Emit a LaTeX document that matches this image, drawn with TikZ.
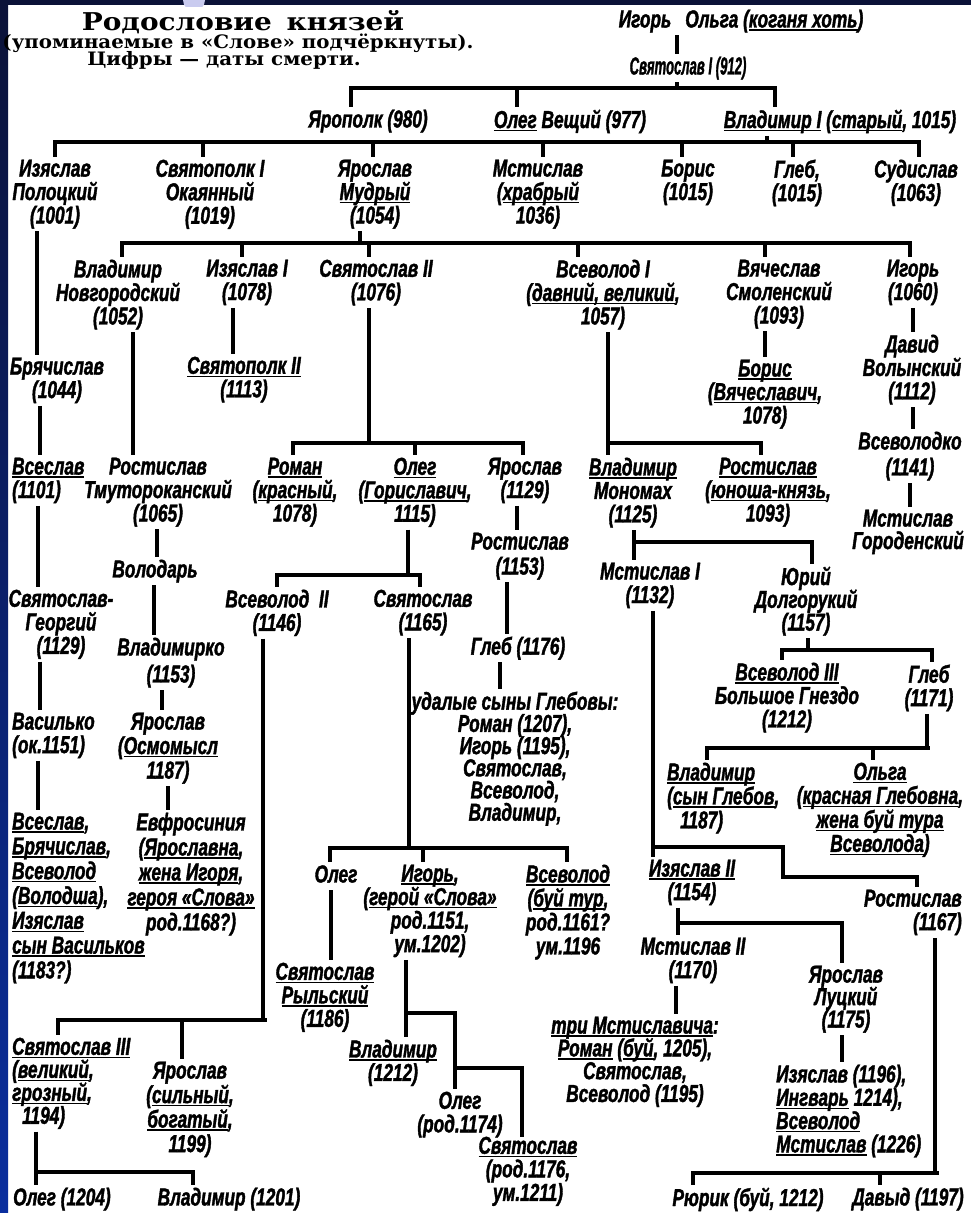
\documentclass[tikz,border=0pt]{standalone}
\usepackage{fontspec}
\usepackage{graphicx}
\newfontfamily\rus{Liberation Sans}[FakeStretch=0.705, FakeBold=1.5]
\newfontfamily\ttl{DejaVu Serif}[FakeStretch=1.14]
\newfontfamily\subt{DejaVu Serif}[FakeStretch=1.07]
\newcommand\uu[1]{\leavevmode\setbox0\hbox{#1}\rlap{\rule[-3.2pt]{\wd0}{1.4pt}}\box0\relax}
\definecolor{navy}{HTML}{0B1238}
\definecolor{bluestrip}{HTML}{0A2E9E}
\definecolor{lav}{HTML}{C9CBEF}
\tikzset{
  nm/.style={font=\fontsize{24.5}{23.5}\selectfont\rus\bfseries\itshape, align=center, inner sep=0pt, anchor=north,
    execute at begin node={\vphantom{(}}, execute at end node={\vphantom{(}}},
  nml/.style={nm, align=left, anchor=north west},
  nmr/.style={nm, align=right, anchor=north east},
  bs/.style={font=\fontsize{24.5}{#1}\selectfont\rus\bfseries\itshape},
  ln/.style={line width=4.5pt},
  bar/.style={line width=4.5pt, line cap=rect},
  ttlfont/.style={font=\fontsize{24.5}{24.5}\selectfont\ttl\bfseries, anchor=base, inner sep=0pt},
  subfont/.style={font=\fontsize{18.5}{20}\selectfont\subt\bfseries, anchor=base, inner sep=0pt},
}
\newcommand\vln[3]{\draw[ln,shorten <=2.5pt,shorten >=2.5pt] (#1.south -| #3,0) -- (#2.north -| #3,0);}
\newcommand\famb[5]{\draw[ln,shorten <=2.5pt] (#1.south -| #2,0) -- (#2,#3);\draw[bar] (#4,#3) -- (#5,#3);}
\newcommand\drop[3]{\draw[ln,shorten >=2.5pt] (#1,#2) -- (#3.north -| #1,0);}
\begin{document}
\lineskiplimit=-100pt
\begin{tikzpicture}[x=1pt,y=-1pt]
\useasboundingbox (0,0) rectangle (971,1213);
\fill[white] (0,0) rectangle (971,1213);
\shade[top color=navy, bottom color=bluestrip] (0,0) rectangle (8,1213);
\fill[navy] (0,0) rectangle (971,5);
\begin{scope}
\clip (0,0) rectangle (971,6);
\fill[lav] (194,0) circle[radius=11pt];
\end{scope}

% titles
\node[ttlfont] (title) at (243,30) {Родословие\hspace{0.6em}князей};
\node[subfont] (sub1) at (238,48.5) {(упоминаемые в «Слове» подчёркнуты).};
\node[subfont] (sub2) at (224,65) {Цифры — даты смерти.};

% generation 0-1
\node[nm] (igor0) at (741,9.5) {Игорь\hspace{14pt}Ольга (\uu{коганя хоть})};
\node[nm] (sv1) at (688,56.5) {\scalebox{0.76}[1]{Святослав I (912)}};
\node[nm] (yaropolk) at (368,109.5) {Ярополк (980)};
\node[nm] (olegv) at (570,109.5) {\uu{Олег} Вещий (977)};
\node[nm] (vlad1) at (840,109.5) {\uu{Владимир I} (\uu{старый}, 1015)};

% row 2
\node[nm] (izpol) at (55,159.5) {Изяслав\\Полоцкий\\(1001)};
\node[nm] (svp1) at (210,159.5) {Святополк I\\Окаянный\\(1019)};
\node[nm] (yarm) at (375,159.5) {Ярослав\\\uu{Мудрый}\\(1054)};
\node[nm] (mst) at (538,159.5) {Мстислав\\(\uu{храбрый}\\1036)};
\node[nm] (boris) at (688,159.5) {Борис\\(1015)};
\node[nm] (gleb) at (797,159.5) {Глеб,\\(1015)};
\node[nm] (sud) at (916,159.5) {Судислав\\(1063)};

% row 3
\node[nm] (vnov) at (118,259.5) {Владимир\\Новгородский\\(1052)};
\node[nm] (iz1) at (247,259.5) {Изяслав I\\(1078)};
\node[nm] (sv2) at (376,259.5) {Святослав II\\(1076)};
\node[nm] (vs1) at (603,259.5) {Всеволод I\\(\uu{давний, великий},\\1057)};
\node[nm] (vyach) at (779,259.5) {Вячеслав\\Смоленский\\(1093)};
\node[nm] (igor1060) at (913,259.5) {Игорь\\(1060)};

% left column
\node[nm] (bryach) at (57,357.5) {Брячислав\\(1044)};
\node[nml] (vseslav) at (12,457.5) {\uu{Всеслав}\\(1101)};
\node[nm] (svgeorg) at (61,589.5) {Святослав-\\Георгий\\(1129)};
\node[nml] (vasilko) at (12,712.5) {Василько\\(ок.1151)};
\node[nml,bs=24.8] (vseslav2) at (12,812.5) {\uu{Всеслав},\\\uu{Брячислав},\\\uu{Всеволод}\\(\uu{Володша}),\\\uu{Изяслав}\\\uu{сын Васильков}\\(1183?)};

\node[nm] (svp2) at (244,356.5) {\uu{Святополк II}\\(1113)};
\node[nm] (rostm) at (158,457.5) {Ростислав\\Тмутороканский\\(1065)};
\node[nm] (volodar) at (155,559.5) {Володарь};
\node[nm,bs=27] (vladko) at (171,637.5) {Владимирко\\(1153)};
\node[nm,bs=24.5] (yarosm) at (168,712.5) {Ярослав\\(\uu{Осмомысл}\\1187)};
\node[nm,bs=25] (evfr) at (191,812.5) {Евфросиния\\(\uu{Ярославна},\\\uu{жена Игоря},\\\uu{героя «Слова»}\\род.1168?)};

% Svyatoslav II line
\node[nm] (roman) at (295,457.5) {\uu{Роман}\\(\uu{красный},\\1078)};
\node[nm] (olegg) at (415,457.5) {\uu{Олег}\\(\uu{Гориславич},\\1115)};
\node[nm] (yar1129) at (525,457.5) {Ярослав\\(1129)};
\node[nm,bs=25] (rost1153) at (520,532.5) {Ростислав\\(1153)};
\node[nm] (gleb1176) at (518,636.5) {Глеб (1176)};
\node[nm,bs=22.2] (udal) at (515,691.5) {удалые сыны Глебовы:\\Роман (1207),\\Игорь (1195),\\Святослав,\\Всеволод,\\Владимир,};
\node[nm] (vs2) at (277,589.5) {Всеволод\ \ II\\(1146)};
\node[nm] (svy1165) at (423,589.5) {Святослав\\(1165)};
\node[nml,bs=23] (sv3) at (12,1037.5) {\uu{Святослав III}\\(\uu{великий},\\\uu{грозный},\\\hspace*{10pt}1194)};
\node[nm,bs=24.5] (yarsil) at (190,1061.5) {Ярослав\\(\uu{сильный},\\\uu{богатый},\\1199)};
\node[nml] (oleg1204) at (13,1187.5) {Олег (1204)};
\node[nm] (vlad1201) at (229,1187.5) {Владимир (1201)};
\node[nm] (olegs) at (336,864.5) {Олег};
\node[nm] (igors) at (430,864.5) {\uu{Игорь},\\(\uu{герой «Слова»}\\род.1151,\\ум.1202)};
\node[nm,bs=24] (vsbt) at (568,864.5) {\uu{Всеволод}\\(\uu{буй тур},\\род.1161?\\ум.1196};
\node[nm] (svryl) at (325,962.5) {\uu{Святослав}\\\uu{Рыльский}\\(1186)};
\node[nm] (vlad1212) at (393,1039.5) {\uu{Владимир}\\(1212)};
\node[nm] (oleg1174) at (460,1091.5) {Олег\\(род.1174)};
\node[nm] (sv1176) at (528,1136.5) {\uu{Святослав}\\(род.1176,\\ум.1211)};

% Vsevolod I line
\node[nm] (mon) at (633,457.5) {\uu{Владимир}\\Мономах\\(1125)};
\node[nm] (rost1093) at (768,457.5) {\uu{Ростислав}\\(\uu{юноша-князь},\\1093)};
\node[nm] (mst1) at (650,562.5) {Мстислав I\\(1132)};
\node[nm,bs=22.8] (yuri) at (806,566.5) {Юрий\\Долгорукий\\(1157)};
\node[nm] (vs3) at (787,662.5) {\uu{Всеволод III}\\Большое Гнездо\\(1212)};
\node[nm] (gleb1171) at (929,664.5) {Глеб\\(1171)};
\node[nml,bs=24] (vladsyn) at (667,762.5) {\uu{Владимир}\\(\uu{сын Глебов},\\\hspace*{13pt}1187)};
\node[nm,bs=24] (olga) at (880,762.5) {\uu{Ольга}\\(\uu{красная Глебовна},\\\uu{жена буй тура}\\\uu{Всеволода})};
\node[nm] (iz2) at (692,859.5) {\uu{Изяслав II}\\(1154)};
\node[nmr] (rost1167) at (962,889.5) {Ростислав\\(1167)};
\node[nm] (mst2) at (693,937.5) {Мстислав II\\(1170)};
\node[nm,bs=22.5] (yarluck) at (846,965.5) {Ярослав\\Луцкий\\(1175)};
\node[nm,bs=22.8] (tri) at (635,1016.5) {\uu{три Мстиславича}:\\\uu{Роман} (\uu{буй}, 1205),\\Святослав,\\Всеволод (1195)};
\node[nml,bs=23.3] (izbig) at (776,1064.5) {Изяслав (1196),\\\uu{Ингварь} 1214),\\\uu{Всеволод}\\\uu{Мстислав} (1226)};
\node[nm] (ryurik) at (748,1187.5) {Рюрик (буй, 1212)};
\node[nm] (davyd) at (908,1187.5) {Давыд (1197)};
\node[nm] (borisv) at (765,359.5) {\uu{Борис}\\(\uu{Вячеславич},\\1078)};
\node[nm] (david) at (912,334.5) {Давид\\Волынский\\(1112)};
\node[nm,bs=26] (vsko) at (910,431.5) {Всеволодко\\(1141)};
\node[nm,bs=22.5] (mstgor) at (908,509.5) {Мстислав\\Городенский};

% connectors
\vln{igor0}{sv1}{677}
\famb{sv1}{677}{88}{351}{775}
\drop{351}{88}{yaropolk}\drop{517}{88}{olegv}\drop{775}{88}{vlad1}
\famb{vlad1}{767}{142}{55}{919}
\drop{55}{142}{izpol}\drop{203}{142}{svp1}\drop{373}{142}{yarm}\drop{543}{142}{mst}
\drop{682}{142}{boris}\drop{793}{142}{gleb}\drop{919}{142}{sud}
\famb{yarm}{360}{243}{122}{910}
\drop{122}{243}{vnov}\drop{242}{243}{iz1}\drop{369}{243}{sv2}\drop{578}{243}{vs1}
\drop{765}{243}{vyach}\drop{910}{243}{igor1060}
\vln{izpol}{bryach}{37}
\vln{bryach}{vseslav}{40}
\vln{vseslav}{svgeorg}{38}
\vln{svgeorg}{vasilko}{40}
\vln{vasilko}{vseslav2}{38}
\vln{vnov}{rostm}{133}
\vln{rostm}{volodar}{157}
\vln{volodar}{vladko}{154}
\vln{vladko}{yarosm}{162}
\vln{yarosm}{evfr}{168}
\vln{iz1}{svp2}{233}
\famb{sv2}{369}{443}{293}{523}
\drop{293}{443}{roman}\drop{415}{443}{olegg}\drop{523}{443}{yar1129}
\famb{olegg}{408}{575}{277}{420}
\drop{277}{575}{vs2}\drop{420}{575}{svy1165}
\vln{yar1129}{rost1153}{517}
\vln{rost1153}{gleb1176}{507}
\vln{gleb1176}{udal}{500}
\famb{vs2}{263}{1020}{58}{265}
\drop{58}{1020}{sv3}\drop{182}{1020}{yarsil}
\famb{sv3}{36}{1172}{36}{193}
\drop{36}{1172}{oleg1204}\drop{193}{1172}{vlad1201}
\famb{svy1165}{409}{848}{330}{567}
\drop{330}{848}{olegs}\drop{423}{848}{igors}\drop{567}{848}{vsbt}
\vln{olegs}{svryl}{331}
\vln{igors}{vlad1212}{406}
\draw[ln,line join=miter,shorten >=2.5pt] (406,1013) -| (oleg1174.north -| 455,0);
\draw[ln,line join=miter] (455,1068) -| (sv1176.north -| 522,0);
\famb{vs1}{608}{443}{608}{761}
\drop{608}{443}{mon}\drop{761}{443}{rost1093}
\famb{mon}{634}{542}{634}{812}
\drop{634}{542}{mst1}\drop{812}{542}{yuri}
\vln{mst1}{iz2}{653}
\draw[ln,line join=miter,shorten >=2.5pt] (653,847) -| (783,877) -| (rost1167.north -| 917,0);
\famb{yuri}{808}{650}{782}{932}
\drop{782}{650}{vs3}\drop{932}{650}{gleb1171}
\famb{gleb1171}{927}{748}{707}{928}
\drop{707}{748}{vladsyn}\drop{873}{748}{olga}
\vln{iz2}{mst2}{678}
\draw[ln,line join=miter,shorten >=2.5pt] (678,923) -| (yarluck.north -| 842,0);
\vln{mst2}{tri}{676}
\vln{yarluck}{izbig}{842}
\famb{rost1167}{935}{1173}{693}{937}
\drop{693}{1173}{ryurik}\drop{880}{1173}{davyd}
\vln{vyach}{borisv}{765}
\vln{igor1060}{david}{913}
\vln{david}{vsko}{913}
\vln{vsko}{mstgor}{910}
\end{tikzpicture}
\end{document}
